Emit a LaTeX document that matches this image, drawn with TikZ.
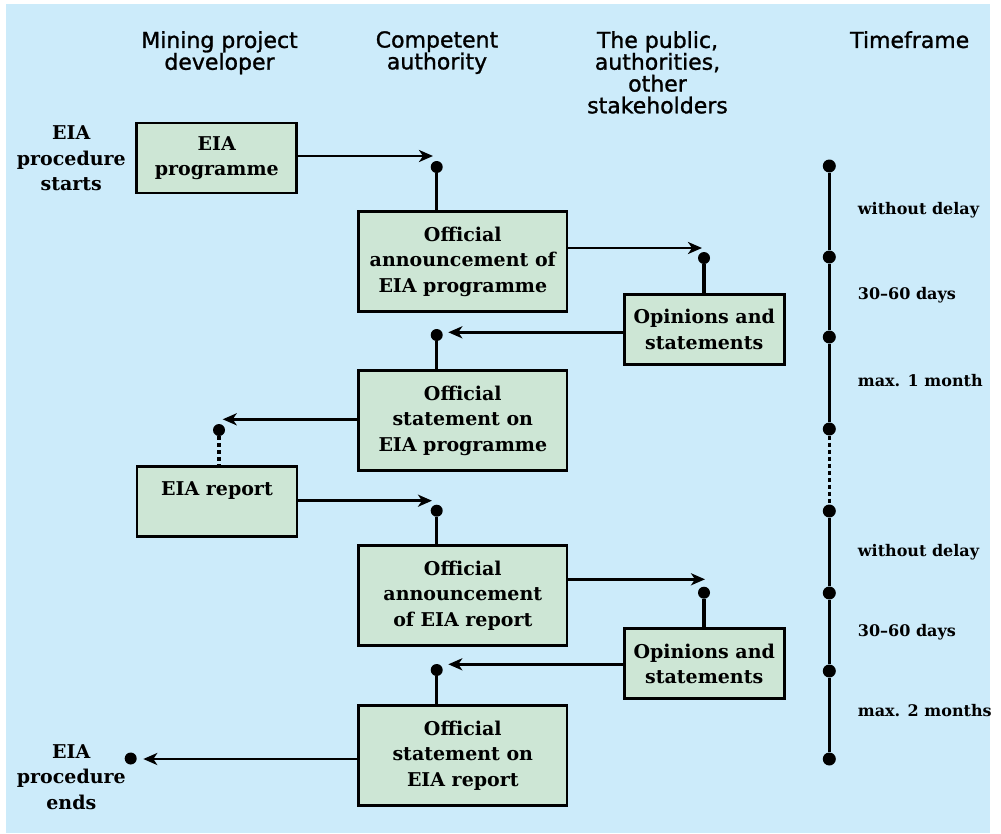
\documentclass[tikz,border=0pt]{standalone}
\usepackage{fontspec}
\usetikzlibrary{arrows.meta}
\newfontfamily\headfont[FakeBold=1.2]{DejaVu Sans}
\newfontfamily\bodyfont{DejaVu Serif}
\definecolor{skyback}{RGB}{204,235,250}
\definecolor{boxgreen}{RGB}{205,230,213}

\begin{document}
\begin{tikzpicture}[x=1pt, y=-1pt,
  box/.style={draw, line width=2.8pt, fill=boxgreen, align=center, inner sep=0pt,
    font=\bodyfont\bfseries\fontsize{19}{25.5}\selectfont},
  small/.style={box, minimum width=160pt, minimum height=70pt},
  wide/.style={box, minimum width=208.5pt, minimum height=100pt},
  dot/.style={circle, fill, inner sep=0pt, minimum size=12pt},
  hdr/.style={align=center, anchor=north, inner sep=0pt,
    font=\headfont\fontsize{22}{21.8}\selectfont},
  side/.style={align=center, inner sep=0pt,
    font=\bodyfont\bfseries\fontsize{19}{25.5}\selectfont},
  tlbl/.style={anchor=base west, inner sep=0pt,
    font=\bodyfont\bfseries\fontsize{16}{20}\selectfont},
  flow/.style={line width=2.8pt, -{Stealth[length=14pt, width=12pt, inset=4pt]}},
  stem/.style={line width=3.3pt},
  gap/.style={line width=3.3pt, dash pattern=on 4pt off 3pt}]
  \useasboundingbox (0,0) rectangle (1001,833);
  \fill[skyback] (6,4) rectangle (990,833);

  \node(hdev)[hdr] at (219.5,31) {Mining project\\developer};
  \node(hauth)[hdr] at (437,31) {Competent\\authority};
  \node(hpub)[hdr] at (657.5,31) {The public,\\authorities,\\other\\stakeholders};
  \node(htime)[hdr] at (909.7,31) {Timeframe};

  \node(start)[side] at (71.3,158.4) {EIA\\procedure\\starts};
  \node(end)[side] at (71.3,777) {EIA\\procedure\\ends};

  \node(epr)[small] at (216.8,158) {EIA\\programme};
  \node(ann1)[wide] at (462.8,261.5) {Official\\announcement of\\EIA programme};
  \node(opi1)[small] at (704.2,329.5) {Opinions and\\statements};
  \node(sta1)[wide] at (462.8,420.8) {Official\\statement on\\EIA programme};
  \node(rep)[small] at (217,501.3) {EIA report\\\mbox{}};
  \node(ann2)[wide] at (462.8,595.5) {Official\\announcement\\of EIA report};
  \node(opi2)[small] at (704.2,663.8) {Opinions and\\statements};
  \node(sta2)[wide] at (462.8,755.5) {Official\\statement on\\EIA report};

  % hand-over points
  \foreach \n/\x/\y in {1/436.7/167,2/704/258,3/436.7/335,4/219/430,
                        5/436.7/510.7,6/704/592.7,7/436.7/670,8/130.7/758.5}{%
    \node(d\n)[dot] at (\x,\y) {};
  }
  \foreach \n/\x/\y in {1/433/156,2/702/248,3/448.3/332.3,4/222.7/419.3,
                        5/432/500.7,6/705/579.3,7/448.3/664.3,8/143.3/759}{%
    \coordinate(a\n) at (\x,\y);
  }
  \draw[flow] (epr.east |- a1) -- (a1);
  \draw[flow] (ann1.east |- a2) -- (a2);
  \draw[flow] (opi1.west |- a3) -- (a3);
  \draw[flow] (sta1.west |- a4) -- (a4);
  \draw[flow] (rep.east |- a5) -- (a5);
  \draw[flow] (ann2.east |- a6) -- (a6);
  \draw[flow] (opi2.west |- a7) -- (a7);
  \draw[flow] (sta2.west |- a8) -- (a8);

  \draw[stem] (d1) -- (d1 |- ann1.north);
  \draw[stem] (d2) -- (d2 |- opi1.north);
  \draw[stem] (d3) -- (d3 |- sta1.north);
  \draw[gap] (d4) -- (d4 |- rep.north);
  \draw[stem] (d5) -- (d5 |- ann2.north);
  \draw[stem] (d6) -- (d6 |- opi2.north);
  \draw[stem] (d7) -- (d7 |- sta2.north);

  % timeline
  \foreach \n/\y in {1/166,2/257,3/337,4/429,5/511,6/593,7/671,8/759}{%
    \node(t\n)[dot, minimum size=13pt] at (829.3,\y) {};
  }
  \foreach \a/\b in {1/2,2/3,3/4,5/6,6/7,7/8}{%
    \draw[stem] (t\a) -- (t\b);
  }
  \draw[gap] (t4) -- (t5);
  \foreach \y/\t [count=\i] in {214/without delay,299/30–60 days,386/max. 1 month,
                                556.7/without delay,636.7/30–60 days,716.7/max. 2 months}{%
    \node(f\i)[tlbl] at (857.7,\y) {\t};
  }
\end{tikzpicture}
\end{document}
